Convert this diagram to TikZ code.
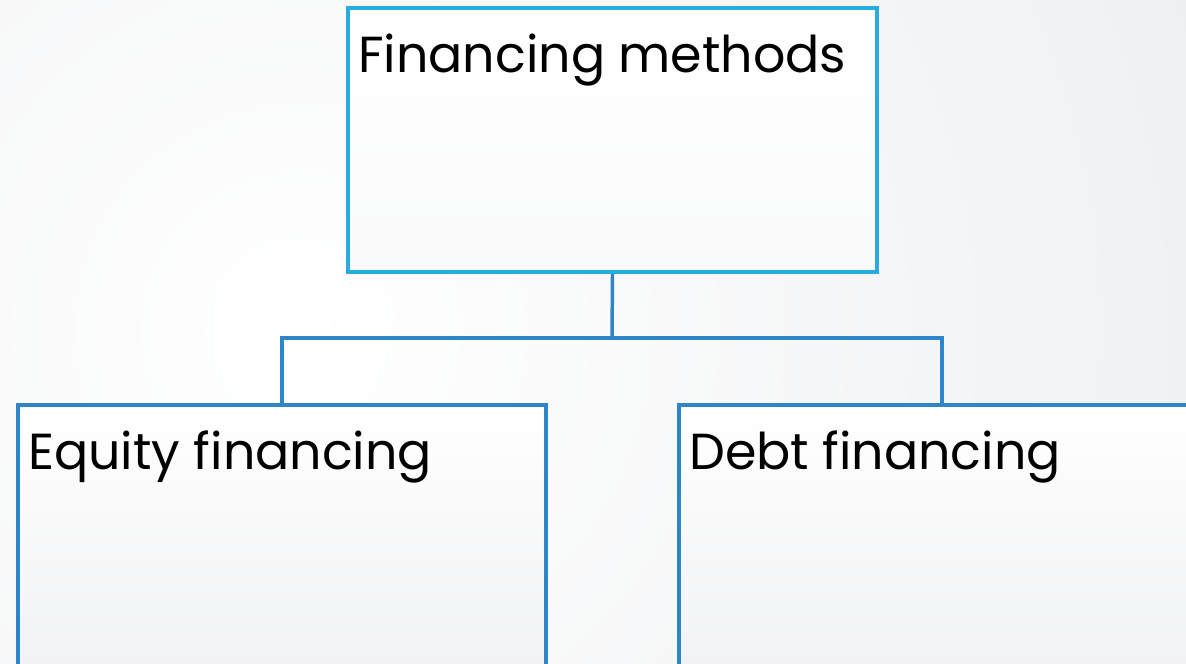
\documentclass[tikz,border=0pt]{standalone}
\usepackage{fontspec}
\setmainfont{Poppins}
\definecolor{bggray}{HTML}{E0E3E6}
\definecolor{toprule}{HTML}{29AAE1}
\definecolor{boxrule}{HTML}{2E86C8}
\definecolor{boxlow}{HTML}{EFF0F2}
\begin{document}
\begin{tikzpicture}[x=0.75pt,y=-0.75pt,
  box/.style={rectangle,draw,line width=2.6pt,inner sep=0pt,
    top color=white,bottom color=boxlow},
  caption/.style={anchor=base west,inner sep=0pt,text=black,
    font=\fontsize{38}{45}\selectfont},
  conn/.style={draw=boxrule,line width=2.6pt}]
  % page and soft radial backdrop
  \useasboundingbox (0,0) rectangle (1186,664);
  \clip (0,0) rectangle (1186,664);
  \shade[inner color=white,outer color=bggray] (300,330) circle (1800);
  % boxes
  \node[box,draw=toprule,minimum width=529*0.75pt,minimum height=264*0.75pt,
    top color=white,bottom color=white!70!boxlow] (top) at (612.5,140) {};
  \node[box,draw=boxrule,minimum width=528*0.75pt,minimum height=300*0.75pt] (left) at (282,555) {};
  \node[box,draw=boxrule,minimum width=526*0.75pt,minimum height=300*0.75pt] (right) at (942,555) {};
  % captions
  \node[caption] (ttop) at (358,72) {Financing methods};
  \node[caption] (tleft) at (28,469) {Equity financing};
  \node[caption] (tright) at (689,469) {Debt financing};
  % tree connectors
  \coordinate (mid) at (612,338);
  \draw[conn] (top.south) -- (mid);
  \draw[conn] (left.north) |- (mid) -| (right.north);
\end{tikzpicture}
\end{document}
